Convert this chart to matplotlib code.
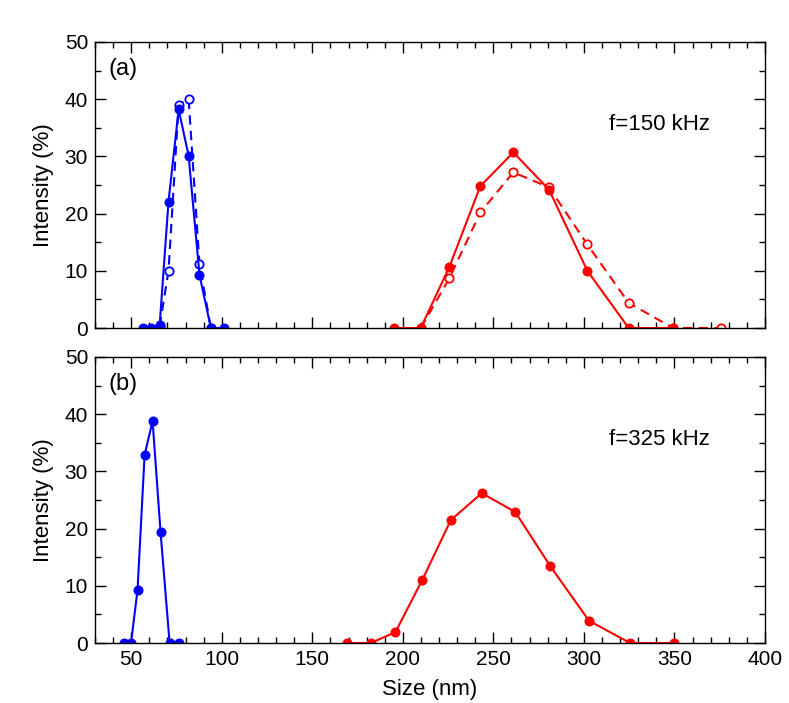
import numpy as np
import matplotlib
matplotlib.use('Agg')
from matplotlib import pyplot as plt
from matplotlib.ticker import MultipleLocator

plt.rcParams['font.family'] = ['Liberation Sans', 'DejaVu Sans']

# (a) f = 150 kHz
a_blue_x = [56.5, 61.2, 65.7, 70.6, 76.2, 81.7, 87.7, 94.0, 101.5]
a_blue_y = [0, 0, 0.5, 22.1, 38.2, 30.1, 9.3, 0, 0]
a_blue2_x = [65.7, 70.6, 76.2, 81.7, 87.7, 94.0]
a_blue2_y = [0.3, 10.0, 39.0, 40.0, 11.2, 0]
a_red_x = [195.2, 209.9, 225.7, 242.8, 261.0, 280.7, 301.9, 324.7, 349.2]
a_red_y = [0, 0, 10.7, 24.8, 30.7, 24.2, 10.0, 0, 0]
a_red2_x = [209.9, 225.7, 242.8, 261.0, 280.7, 301.9, 324.7, 349.2, 375.7]
a_red2_y = [0, 8.7, 20.2, 27.2, 24.6, 14.6, 4.4, 0, 0]

# (b) f = 325 kHz
b_blue_x = [46.2, 49.9, 53.5, 57.4, 61.8, 66.2, 71.2, 76.4]
b_blue_y = [0, 0, 9.3, 32.9, 38.8, 19.4, 0, 0]
b_red_x = [169.4, 182.3, 195.9, 210.7, 226.5, 243.6, 262.1, 281.5, 302.8, 325.5, 349.9]
b_red_y = [0, 0, 1.9, 11.0, 21.5, 26.2, 22.9, 13.4, 3.9, 0, 0]

blue = '#0000ff'
red = '#ff0000'

fig = plt.figure(figsize=(7.89, 7.03), dpi=100)
ax1 = fig.add_axes([0.1204, 0.5334, 0.8492, 0.4069])
ax2 = fig.add_axes([0.1204, 0.0853, 0.8492, 0.4069])

solid = dict(lw=1.5, marker='o', ms=6, mew=1.2)
dash = dict(lw=1.5, marker='o', ms=6, mew=1.3, mfc='white', ls='--', dashes=(4.5, 3))

ax1.plot(a_blue2_x, a_blue2_y, color=blue, mec=blue, **dash)
ax1.plot(a_red2_x, a_red2_y, color=red, mec=red, **dash)
ax1.plot(a_blue_x, a_blue_y, color=blue, **solid)
ax1.plot(a_red_x, a_red_y, color=red, **solid)

ax2.plot(b_blue_x, b_blue_y, color=blue, **solid)
ax2.plot(b_red_x, b_red_y, color=red, **solid)

for ax in (ax1, ax2):
    ax.set_xlim(30, 400)
    ax.set_ylim(0, 50)
    ax.xaxis.set_major_locator(MultipleLocator(50))
    ax.xaxis.set_minor_locator(MultipleLocator(10))
    ax.yaxis.set_major_locator(MultipleLocator(10))
    ax.yaxis.set_minor_locator(MultipleLocator(5))
    ax.tick_params(which='both', direction='in', top=True, right=True, labelsize=15, width=1)
    ax.tick_params(which='major', length=8, pad=5)
    ax.tick_params(which='minor', length=4)
    for s in ax.spines.values():
        s.set_linewidth(1)
    ax.set_ylabel('Intensity (%)', fontsize=16, labelpad=8)

ax1.tick_params(labelbottom=False)
ax2.set_xlabel('Size (nm)', fontsize=16, labelpad=7)

ax1.text(0.02, 0.905, '(a)', transform=ax1.transAxes, fontsize=17, va='center')
ax2.text(0.02, 0.905, '(b)', transform=ax2.transAxes, fontsize=17, va='center')
ax1.text(0.842, 0.71, 'f=150 kHz', transform=ax1.transAxes, fontsize=16, ha='center', va='center')
ax2.text(0.842, 0.71, 'f=325 kHz', transform=ax2.transAxes, fontsize=16, ha='center', va='center')

fig.savefig('out.png', dpi=100)
